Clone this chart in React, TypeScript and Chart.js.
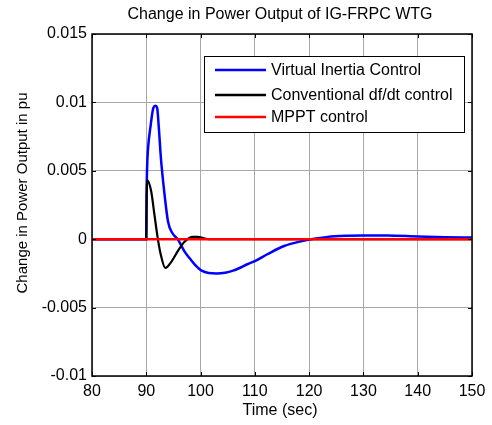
import { useEffect, useRef } from 'react';
import { Chart, registerables } from 'chart.js';

Chart.register(...registerables);

const chartTitle = 'Change in Power Output of IG-FRPC WTG';
const xAxisTitle = 'Time (sec)';
const yAxisTitle = 'Change in Power Output in pu';
const xTicks = [80, 90, 100, 110, 120, 130, 140, 150];
const yTicks = [-0.01, -0.005, 0, 0.005, 0.01, 0.015];
const seriesNames = ['Virtual Inertia Control', 'Conventional df/dt control', 'MPPT control'];
const seriesColors = ['#0000ff', '#000000', '#ff0000'];

const vicTime = [80, 90, 90.05, 90.15, 90.3, 90.8, 91.3, 91.7, 92.0, 92.3, 92.7, 93.3, 94.0, 94.8, 95.8, 97.0, 98.0, 98.9, 100.2, 101.5, 103, 104.5, 106, 107.5, 108.5, 110, 112.3, 115.4, 118.5, 120.4, 123.4, 127, 130, 134.4, 140, 145, 150];
const vicValue = [0, 0, 0.003, 0.0052, 0.0065, 0.0083, 0.0096, 0.00975, 0.0096, 0.0082, 0.0059, 0.0035, 0.0013, 0.00045, 0, -0.00087, -0.0014, -0.00184, -0.0023, -0.00247, -0.0025, -0.00245, -0.0023, -0.00205, -0.00185, -0.0016, -0.0011, -0.0005, -0.00015, 0, 0.00017, 0.00025, 0.00027, 0.00027, 0.0002, 0.00015, 0.00012];

const dfdtTime = [80, 90, 90.05, 90.2, 90.9, 91.5, 92.1, 92.6, 93.5, 94.7, 95.8, 97.0, 98.6, 99.5, 100.5, 101.5, 150];
const dfdtValue = [0, 0, 0.0025, 0.0043, 0.0035, 0.0018, 0.0001, -0.001, -0.0021, -0.0016, -0.00087, -0.0002, 0.00017, 0.00017, 0.00008, 0, 0];

const mpptTime = [80, 150];
const mpptValue = [0, 0];

const FONT = 'Liberation Sans, Arial, sans-serif';

const toPoints = (t: number[], v: number[]) => t.map((x, i) => ({ x, y: v[i] }));

const decorPlugin = {
  id: 'decor',
  beforeDraw(chart: any) {
    const { ctx, width, height } = chart;
    ctx.save();
    ctx.fillStyle = '#ffffff';
    ctx.fillRect(0, 0, width, height);
    ctx.restore();
  },
  afterDraw(chart: any) {
    const { ctx, chartArea: a, scales } = chart;
    ctx.save();
    // frame
    ctx.strokeStyle = '#000';
    ctx.lineWidth = 1.5;
    ctx.strokeRect(a.left, a.top, a.right - a.left, a.bottom - a.top);
    // inner tick marks
    ctx.lineWidth = 1;
    ctx.beginPath();
    xTicks.forEach((v) => {
      const x = Math.round(scales.x.getPixelForValue(v)) + 0.5;
      ctx.moveTo(x, a.bottom);
      ctx.lineTo(x, a.bottom - 4);
      ctx.moveTo(x, a.top);
      ctx.lineTo(x, a.top + 4);
    });
    yTicks.forEach((v) => {
      const y = Math.round(scales.y.getPixelForValue(v)) + 0.5;
      ctx.moveTo(a.left, y);
      ctx.lineTo(a.left + 4, y);
      ctx.moveTo(a.right, y);
      ctx.lineTo(a.right - 4, y);
    });
    ctx.stroke();

    // legend
    const bx = a.right - 268;
    const by = a.top + 22;
    const bw = 260;
    const bh = 76;
    ctx.fillStyle = '#fff';
    ctx.fillRect(bx, by, bw, bh);
    ctx.strokeStyle = '#000';
    ctx.lineWidth = 1;
    ctx.strokeRect(bx + 0.5, by + 0.5, bw, bh);
    const rowY = [14, 39, 61];
    chart.data.datasets.forEach((ds: any, i: number) => {
      const y = by + rowY[i];
      ctx.strokeStyle = ds.borderColor;
      ctx.lineWidth = 2.5;
      ctx.beginPath();
      ctx.moveTo(bx + 11, y);
      ctx.lineTo(bx + 62, y);
      ctx.stroke();
      ctx.fillStyle = '#000';
      ctx.font = `16px ${FONT}`;
      ctx.textAlign = 'left';
      ctx.textBaseline = 'middle';
      ctx.fillText(ds.label, bx + 67, y + 1);
    });

    // titles
    ctx.fillStyle = '#000';
    ctx.font = `16px ${FONT}`;
    ctx.textAlign = 'center';
    ctx.textBaseline = 'middle';
    ctx.fillText(chartTitle, 280, 15);
    ctx.fillText(xAxisTitle, 280, 411);
    ctx.save();
    ctx.translate(23, 193);
    ctx.rotate(-Math.PI / 2);
    ctx.font = `15px ${FONT}`;
    ctx.fillText(yAxisTitle, 0, 0);
    ctx.restore();
    ctx.restore();
  },
};

export default function App() {
  const ref = useRef<HTMLCanvasElement | null>(null);
  useEffect(() => {
    if (!ref.current) return;
    const chart = new Chart(ref.current, {
      type: 'line',
      data: {
        datasets: [
          {
            label: seriesNames[0],
            data: toPoints(vicTime, vicValue),
            borderColor: seriesColors[0],
            borderWidth: 2.5,
            pointRadius: 0,
            cubicInterpolationMode: 'monotone',
            order: 3,
          },
          {
            label: seriesNames[1],
            data: toPoints(dfdtTime, dfdtValue),
            borderColor: seriesColors[1],
            borderWidth: 2.2,
            pointRadius: 0,
            cubicInterpolationMode: 'monotone',
            order: 2,
          },
          {
            label: seriesNames[2],
            data: toPoints(mpptTime, mpptValue),
            borderColor: seriesColors[2],
            borderWidth: 2.5,
            pointRadius: 0,
            order: 1,
          },
        ],
      },
      options: {
        animation: false,
        responsive: true,
        maintainAspectRatio: false,
        layout: { padding: { top: 34, right: 20, left: 0, bottom: 0 } },
        plugins: { legend: { display: false }, tooltip: { enabled: false }, title: { display: false } },
        scales: {
          x: {
            type: 'linear',
            min: 80,
            max: 150,
            afterBuildTicks: (s: any) => {
              s.ticks = xTicks.map((value) => ({ value }));
            },
            afterFit: (s: any) => {
              s.height = 49;
            },
            ticks: {
              color: '#000',
              font: { family: FONT, size: 16 },
              padding: 6,
              maxRotation: 0,
              autoSkip: false,
              callback: (v: any) => String(v),
            },
            grid: { color: '#a8a8a8', lineWidth: 1, drawTicks: false },
            border: { display: false },
          },
          y: {
            type: 'linear',
            min: -0.01,
            max: 0.015,
            afterBuildTicks: (s: any) => {
              s.ticks = yTicks.map((value) => ({ value }));
            },
            afterFit: (s: any) => {
              s.width = 92;
            },
            ticks: {
              color: '#000',
              font: { family: FONT, size: 16 },
              padding: 5,
              autoSkip: false,
              callback: (v: any) => String(Number(Number(v).toFixed(3))),
            },
            grid: { color: '#a8a8a8', lineWidth: 1, drawTicks: false },
            border: { display: false },
          },
        },
      },
      plugins: [decorPlugin],
    });
    return () => chart.destroy();
  }, []);
  return (
    <div style={{ position: 'absolute', left: 0, top: 0, width: 492, height: 425 }}>
      <canvas ref={ref} />
    </div>
  );
}
